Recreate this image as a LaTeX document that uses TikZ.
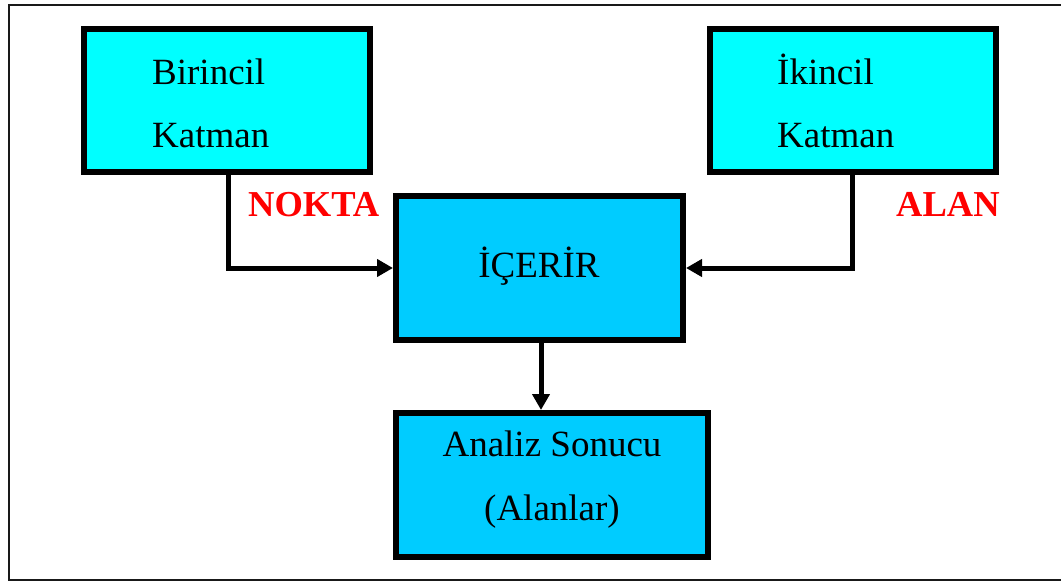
\documentclass[tikz,border=0pt]{standalone}
\usepackage{fontspec}
\setmainfont{Liberation Serif}
\usetikzlibrary{arrows.meta}
\definecolor{topcyan}{HTML}{00FFFF}
\definecolor{midcyan}{HTML}{00CCFF}
\definecolor{lblred}{HTML}{FF0000}
\tikzset{
  boxbase/.style={draw=black, line width=6pt, inner sep=0pt},
  topbox/.style={boxbase, fill=topcyan, minimum width=286pt, minimum height=143pt},
  midbox/.style={boxbase, fill=midcyan},
  conn/.style={line width=5pt, -{Triangle[length=16pt,width=17pt]}},
  txt/.style={font=\fontsize{37}{37}\selectfont, anchor=base west, inner sep=0pt},
  ctxt/.style={font=\fontsize{37}{37}\selectfont, anchor=base, inner sep=0pt},
  lbl/.style={font=\fontsize{36.5}{36.5}\selectfont\bfseries, text=lblred, anchor=base west, inner sep=0pt},
}
\begin{document}
\begin{tikzpicture}[x=1pt,y=-1pt]
\useasboundingbox (0,0) rectangle (1061,583);
\begin{scope}
\clip (0,0) rectangle (1061,583);
\draw[line width=2.2pt, black!90] (9,5) rectangle (1070,580);
\end{scope}
% boxes
\node[topbox] (b1) at (227,100.5) {};
\node[topbox] (b2) at (853,100.5) {};
\node[midbox, minimum width=287pt, minimum height=144pt] (c) at (539.5,268) {};
\node[midbox, minimum width=312pt, minimum height=144pt] (r) at (552,485) {};
% texts
\node[txt] (t1a) at (152,85) {Birincil};
\node[txt] (t1b) at (152,148) {Katman};
\node[txt] (t2a) at (777,85) {İkincil};
\node[txt] (t2b) at (777,148) {Katman};
\node[ctxt] (tc) at (539,277) {İÇERİR};
\node[ctxt] (tr1) at (552,456) {Analiz Sonucu};
\node[ctxt] (tr2) at (552,520) {(Alanlar)};
\node[lbl] (lnokta) at (248,217) {NOKTA};
\node[lbl] (lalan) at (896,217) {ALAN};
% connectors
\coordinate (k1) at (228,268);
\coordinate (k2) at (852,268);
\coordinate (k3) at (541,0);
\draw[conn] (b1.south -| k1) -- (k1) -- (c.west);
\draw[conn] (b2.south -| k2) -- (k2) -- (c.east);
\draw[conn] (c.south -| k3) -- (r.north -| k3);
\end{tikzpicture}
\end{document}
